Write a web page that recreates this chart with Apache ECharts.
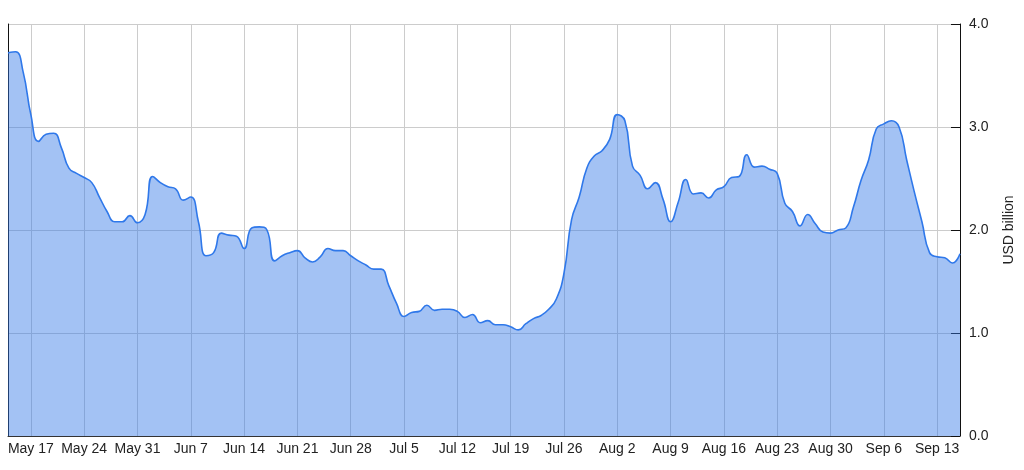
<!DOCTYPE html>
<html>
<head>
<meta charset="utf-8">
<script src="https://cdn.jsdelivr.net/npm/echarts@6/dist/echarts.min.js"></script>
<style>
  html, body { margin: 0; padding: 0; background: #fff; }
  #chart { width: 1024px; height: 470px; }
</style>
</head>
<body>
<div id="chart"></div>
<script>
// daily values, May 14 - Sep 16 (USD billion)
const values = [
  3.72, 3.73, 3.53, 3.12, 2.86, 2.93, 2.94, 2.80, 2.60, 2.55,
  2.51, 2.46, 2.32, 2.18, 2.08, 2.08, 2.14, 2.07, 2.15, 2.52,
  2.46, 2.42, 2.40, 2.29, 2.32, 2.08, 1.75, 1.78, 1.97, 1.95,
  1.94, 1.82, 2.02, 2.03, 2.00, 1.70, 1.75, 1.78, 1.80, 1.73,
  1.69, 1.74, 1.82, 1.80, 1.80, 1.75, 1.70, 1.66, 1.62, 1.62,
  1.46, 1.29, 1.16, 1.20, 1.21, 1.27, 1.22, 1.23, 1.23, 1.21,
  1.15, 1.18, 1.10, 1.12, 1.08, 1.08, 1.06, 1.03, 1.09, 1.14,
  1.17, 1.23, 1.33, 1.58, 2.10, 2.32, 2.60, 2.72, 2.77, 2.88,
  3.12, 3.06, 2.62, 2.53, 2.40, 2.46, 2.30, 2.08, 2.27, 2.49,
  2.35, 2.36, 2.31, 2.39, 2.42, 2.51, 2.52, 2.73, 2.61, 2.62,
  2.59, 2.55, 2.26, 2.18, 2.04, 2.15, 2.06, 1.98, 1.97, 2.00,
  2.02, 2.22, 2.48, 2.68, 2.98, 3.03, 3.06, 3.00, 2.68, 2.37,
  2.08, 1.78, 1.74, 1.73, 1.68, 1.77
];
const monthNames = ['Jan', 'Feb', 'Mar', 'Apr', 'May', 'Jun', 'Jul', 'Aug', 'Sep', 'Oct', 'Nov', 'Dec'];
const startDate = new Date(2021, 4, 14);
const firstMonday = 3; // May 17

// consecutive days as categories
const dates = values.map((v, i) => {
  const d = new Date(startDate.getTime());
  d.setDate(d.getDate() + i);
  return monthNames[d.getMonth()] + ' ' + d.getDate();
});

const weekly = (idx) => (idx - firstMonday) % 7 === 0 && idx >= firstMonday;
const font = 'Arial, "Liberation Sans", sans-serif';

const chart = echarts.init(document.getElementById('chart'));
chart.setOption({
  animation: false,
  grid: { left: 8, right: 63, top: 24, bottom: 34 },
  xAxis: {
    type: 'category',
    data: dates,
    boundaryGap: false,
    axisLine: { lineStyle: { color: '#333', width: 1 } },
    axisTick: { show: false },
    axisLabel: {
      interval: weekly,
      color: '#222',
      fontSize: 14,
      fontFamily: font,
      margin: 6
    },
    splitLine: {
      show: true,
      interval: weekly,
      lineStyle: { color: '#cccccc', width: 1 }
    }
  },
  yAxis: [
    {
      type: 'value',
      position: 'right',
      min: 0,
      max: 4,
      interval: 1,
      name: 'USD billion',
      nameLocation: 'middle',
      nameRotate: 90,
      nameGap: 42,
      nameTextStyle: { color: '#222', fontSize: 14, fontFamily: font },
      axisLine: { show: true, lineStyle: { color: '#111', width: 1 } },
      axisTick: { show: true, inside: true, length: 9, lineStyle: { color: '#111' } },
      axisLabel: {
        color: '#222',
        fontSize: 14,
        fontFamily: font,
        margin: 9,
        formatter: (v) => v.toFixed(1)
      },
      splitLine: { lineStyle: { color: '#cccccc', width: 1 } }
    },
    {
      type: 'value',
      position: 'left',
      min: 0,
      max: 4,
      axisLine: { show: true, lineStyle: { color: '#111', width: 1 } },
      axisTick: { show: false },
      axisLabel: { show: false },
      splitLine: { show: false }
    }
  ],
  series: [
    {
      type: 'line',
      data: values,
      smooth: 0.5,
      symbol: 'none',
      lineStyle: { color: '#2f78ea', width: 1.6 },
      areaStyle: { color: '#3377e6', opacity: 0.45 }
    }
  ]
});
</script>
</body>
</html>
